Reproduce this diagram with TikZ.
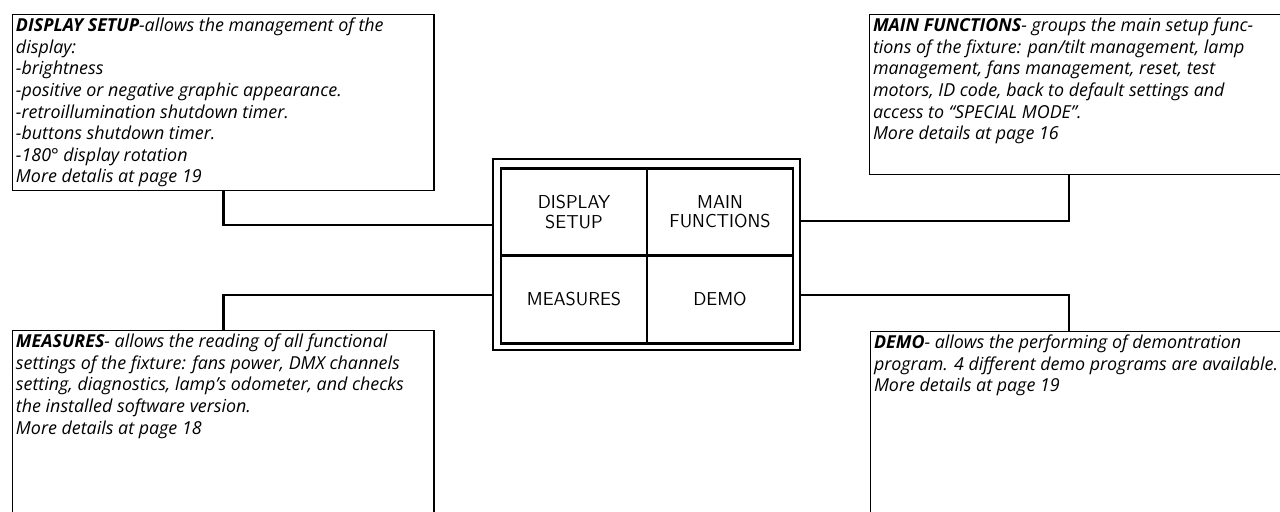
\documentclass[tikz,border=0pt]{standalone}
\usepackage{fontspec}
\setmainfont{Open Sans}
\usetikzlibrary{positioning}

% text block pinned to the top of its box
\newcommand{\boxtext}[2]{\begin{minipage}[t][#1][t]{311pt}\raggedright #2\end{minipage}}

\begin{document}
\begin{tikzpicture}[x=0.75pt, y=-0.75pt,
    infobox/.style={draw, line width=1pt, anchor=north west,
      inner xsep=2.5pt, inner ysep=2.5pt,
      font=\fontsize{13.4}{16.2}\selectfont\itshape},
    cell/.style={draw, line width=2pt, outer sep=0pt, align=center,
      minimum width=109.5pt, minimum height=65.6pt,
      font=\sffamily\fontsize{14}{14.5}\selectfont},
    link/.style={line width=2.2pt}]
    \useasboundingbox (0,0) rectangle (1280,511);
    \clip (0,0) rectangle (1280,511);

    % Draw the four text boxes round the display
    \node[infobox] (dsbox) at (12,14)
      {\boxtext{127pt}{{\bfseries DISPLAY SETUP}-allows the management of the\\
       display:\\
       -brightness\\
       -positive or negative graphic appearance.\\
       -retroillumination shutdown timer.\\
       -buttons shutdown timer.\\
       -180° display rotation\\
       More detalis at page 19}};
    \node[infobox] (mfbox) at (869,14)
      {\boxtext{115pt}{{\bfseries MAIN FUNCTIONS}- groups the main setup func-\\
       tions of the fixture: pan/tilt management, lamp\\
       management, fans management, reset, test\\
       motors, ID code, back to default settings and\\
       access to “SPECIAL MODE”.\\
       More details at page 16}};
    \node[infobox] (msbox) at (12,330)
      {\boxtext{150pt}{{\bfseries MEASURES}- allows the reading of all functional\\
       settings of the fixture: fans power, DMX channels\\
       setting, diagnostics, lamp’s odometer, and checks\\
       the installed software version.\\
       More details at page 18}};
    \node[infobox] (dmbox) at (870,331)
      {\boxtext{150pt}{{\bfseries DEMO}- allows the performing of demontration\\
       program. 4 different demo programs are available.\\
       More details at page 19}};

    % Draw the display frame and its four menu cells
    \node[draw, line width=1.8pt, minimum width=230.25pt, minimum height=143.25pt,
      outer sep=0pt] (panel) at (646.5,254.5) {};
    \node[cell] (dsetup) at (574,212) {DISPLAY\\SETUP};
    \node[cell, right=0pt of dsetup] (mainfn) {MAIN\\FUNCTIONS};
    \node[cell, below=0pt of dsetup] (meas) {MEASURES};
    \node[cell, right=0pt of meas] (demo) {DEMO};

    % Join the boxes to the frame
    \coordinate (upl) at (0,225);
    \coordinate (upr) at (1069,221);
    \coordinate (low) at (1069,295);
    \draw[link] (dsbox.south) |- (panel.west |- upl);
    \draw[link] (mfbox.south -| upr) |- (panel.east |- upr);
    \draw[link] (msbox.north) |- (panel.west |- low);
    \draw[link] (dmbox.north -| low) |- (panel.east |- low);
\end{tikzpicture}
\end{document}
